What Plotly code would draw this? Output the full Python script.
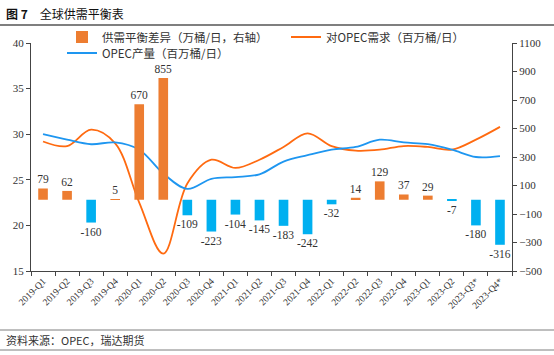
import plotly.graph_objects as go

categories = ["2019-Q1","2019-Q2","2019-Q3","2019-Q4","2020-Q1","2020-Q2","2020-Q3","2020-Q4",
              "2021-Q1","2021-Q2","2021-Q3","2021-Q4","2022-Q1","2022-Q2","2022-Q3","2022-Q4",
              "2023-Q1","2023-Q2","2023-Q3*","2023-Q4*"]
balance = [79, 62, -160, 5, 670, 855, -109, -223, -104, -145, -183, -242, -32, 14, 129, 37, 29, -7, -180, -316]
demand = [29.2, 28.7, 30.5, 29.0, 22.5, 16.9, 24.6, 27.2, 26.3, 27.2, 28.6, 30.1, 28.7, 28.2, 28.3, 28.7, 28.6, 28.3, 29.4, 30.8]
production = [30.0, 29.4, 28.9, 29.1, 28.3, 25.7, 24.0, 25.1, 25.3, 25.6, 27.0, 27.7, 28.3, 28.6, 29.4, 29.1, 28.9, 28.3, 27.5, 27.6]

num_font = "Liberation Serif"
cjk_font = "Noto Sans CJK SC"

bar_colors = ["#ED7D31" if v >= 0 else "#00B0F0" for v in balance]

L, R, T, B = 31, 42, 43, 84
W, H = 554, 355
PW, PH = W - L - R, H - T - B


def px_y(p):
    return (H - B - p) / PH


def px_x(p):
    return (p - L) / PW


fig = go.Figure()
fig.add_trace(go.Bar(
    x=categories, y=balance, yaxis="y2", name="供需平衡差异（万桶/日，右轴）",
    marker=dict(color=bar_colors, line=dict(width=0)), width=0.4,
    text=[str(v) for v in balance], textposition="outside", cliponaxis=False,
    constraintext="none",
    textfont=dict(family=num_font, size=11.5, color="#333333"),
    legend="legend",
))
fig.add_trace(go.Scatter(
    x=categories, y=demand, name="对OPEC需求（百万桶/日）", mode="lines",
    line=dict(color="#FF6A10", width=1.8, shape="spline", smoothing=1.0),
    legend="legend2",
))
fig.add_trace(go.Scatter(
    x=categories, y=production, name="OPEC产量（百万桶/日）", mode="lines",
    line=dict(color="#1E96F0", width=1.8, shape="spline", smoothing=1.0),
    legend="legend3",
))

leg_common = dict(orientation="h", xanchor="left", yanchor="middle", bgcolor="rgba(0,0,0,0)",
                  font=dict(family=cjk_font, size=11.5, color="#333333"), itemwidth=30)

fig.update_layout(
    width=W, height=H,
    margin=dict(l=L, r=R, t=T, b=B, autoexpand=False),
    paper_bgcolor="white", plot_bgcolor="white",
    font=dict(family=cjk_font, size=11, color="#333333"),
    showlegend=True,
    legend=dict(x=px_x(62), y=px_y(37), **leg_common),
    legend2=dict(x=px_x(286), y=px_y(37), **leg_common),
    legend3=dict(x=px_x(62), y=px_y(53), **leg_common),
    xaxis=dict(type="category", tickson="boundaries", ticks="outside", ticklen=4,
               showline=True, linecolor="#444444", linewidth=1, showgrid=False,
               tickangle=-45, automargin=False,
               tickfont=dict(family=num_font, size=9.5, color="#333333")),
    yaxis=dict(range=[15, 40], dtick=5, ticks="outside", ticklen=4, showline=True,
               linecolor="#444444", linewidth=1, showgrid=False, zeroline=False, automargin=False,
               tickfont=dict(family=num_font, size=11, color="#333333")),
    yaxis2=dict(range=[-500, 1100], tick0=100, dtick=200, overlaying="y", side="right", ticks="outside",
                ticklen=4, showline=True, linecolor="#444444", linewidth=1, showgrid=False,
                zeroline=False, automargin=False,
                tickfont=dict(family=num_font, size=11, color="#333333")),
)

fig.add_annotation(text="<b>图 7</b>　全球供需平衡表", xref="paper", yref="paper",
                   x=px_x(4), y=px_y(13), xanchor="left", yanchor="middle", showarrow=False,
                   font=dict(family=cjk_font, size=12, color="#111111"))
fig.add_annotation(text="资料来源：OPEC，瑞达期货", xref="paper", yref="paper",
                   x=px_x(4), y=px_y(340), xanchor="left", yanchor="middle", showarrow=False,
                   font=dict(family=cjk_font, size=11, color="#333333"))

for yp, w, c in [(25, 2, "#7F7F7F"), (330, 1, "#7F7F7F"), (350, 1, "#7F7F7F")]:
    fig.add_shape(type="line", xref="paper", yref="paper", x0=px_x(0), x1=px_x(W),
                  y0=px_y(yp), y1=px_y(yp), line=dict(color=c, width=w))

fig.write_html("out.html", config={"displayModeBar": False},
               post_script="document.body.style.margin='0';document.body.style.overflow='hidden';")
